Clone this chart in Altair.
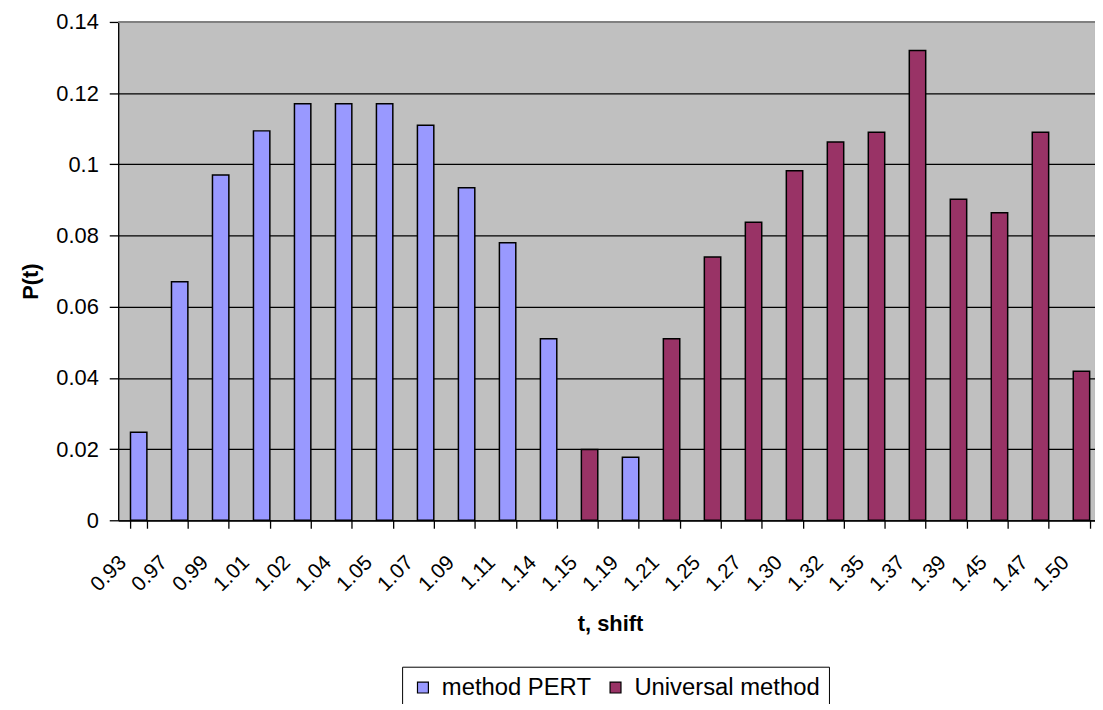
import altair as alt
import pandas as pd

categories = ["0.93", "0.97", "0.99", "1.01", "1.02", "1.04", "1.05", "1.07", "1.09", "1.11",
              "1.14", "1.15", "1.19", "1.21", "1.25", "1.27", "1.30", "1.32", "1.35", "1.37",
              "1.39", "1.45", "1.47", "1.50"]
pert = [0.0247, 0.067, 0.097, 0.1094, 0.117, 0.117, 0.117, 0.111, 0.0934, 0.078,
        0.051, None, 0.0177, None, None, None, None, None, None, None,
        None, None, None, None]
universal = [None, None, None, None, None, None, None, None, None, None,
             None, 0.0199, None, 0.051, 0.074, 0.0837, 0.0982, 0.1063, 0.109, 0.132,
             0.0902, 0.0864, 0.109, 0.0419]
series_names = ["method PERT", "Universal method"]
series_colors = ["#9999FF", "#993366"]
y_ticks = [0, 0.02, 0.04, 0.06, 0.08, 0.1, 0.12, 0.14]

rows = []
for name, vals in zip(series_names, [pert, universal]):
    for c, v in zip(categories, vals):
        if v is not None:
            rows.append({"t": c, "p": v, "series": name})
df = pd.DataFrame(rows)

FONT = "Liberation Sans"
PLOT_W = 984
RANGE_W = 991
PLOT_H = 502

bars = alt.Chart(df).mark_bar(stroke="black", strokeWidth=1.5).encode(
    x=alt.X(
        "t:N",
        sort=categories,
        scale=alt.Scale(domain=categories, range=[0, RANGE_W], paddingInner=0.6, paddingOuter=0.3),
        axis=alt.Axis(
            title="t, shift",
            labelAngle=-45,
            labelAlign="right",
            labelBaseline="middle",
            labelPadding=31,
            labelOffset=-16,
            labelFontSize=21,
            labelFont=FONT,
            labelColor="black",
            tickBand="extent",
            tickSize=8,
            tickColor="black",
            tickWidth=1.3,
            domainColor="black",
            domainWidth=1.3,
            grid=False,
            titleFont=FONT,
            titleFontSize=22,
            titleFontWeight="bold",
            titleColor="black",
            titleBaseline="alphabetic",
            titleY=111,
            labelOverlap=False,
        ),
    ),
    y=alt.Y(
        "p:Q",
        scale=alt.Scale(domain=[0, 0.14], nice=False),
        axis=alt.Axis(
            values=y_ticks,
            format=".2~f",
            title="P(t)",
            labelFontSize=22,
            labelFont=FONT,
            labelColor="black",
            labelPadding=11,
            tickSize=9,
            tickColor="black",
            tickWidth=1.3,
            domainColor="black",
            domainWidth=1.3,
            grid=True,
            gridColor="black",
            gridWidth=1.3,
            titleFont=FONT,
            titleFontSize=22,
            titleFontWeight="bold",
            titleColor="black",
            titleAngle=-90,
            titleAlign="center",
            titleBaseline="middle",
            titleX=-88,
            titleY=261,
        ),
    ),
    color=alt.Color(
        "series:N",
        scale=alt.Scale(domain=series_names, range=series_colors),
        legend=alt.Legend(
            title=None,
            orient="none",
            direction="horizontal",
            legendX=286,
            legendY=649.5,
            symbolType="square",
            symbolSize=121,
            symbolStrokeColor="black",
            symbolStrokeWidth=1.2,
            labelFont=FONT,
            labelFontSize=24,
            labelColor="black",
            labelOffset=7,
            labelLimit=0,
            columnPadding=12,
            strokeColor="black",
            fillColor="white",
            padding=9,
        ),
    ),
)

top_border = alt.Chart(pd.DataFrame({"a": [0]})).mark_rule(color="#808080", strokeWidth=2).encode(
    x=alt.value(0), x2=alt.value(RANGE_W), y=alt.value(0)
)

chart = alt.layer(bars, top_border).properties(
    width=PLOT_W,
    height=PLOT_H,
    background="white",
    autosize=alt.AutoSizeParams(type="none"),
    padding={"left": 111, "top": 11.5, "right": 0, "bottom": 182},
).configure_view(
    fill="#C0C0C0", stroke="#808080"
)

chart.save("out.html", embed_options={"renderer": "svg", "actions": False})
